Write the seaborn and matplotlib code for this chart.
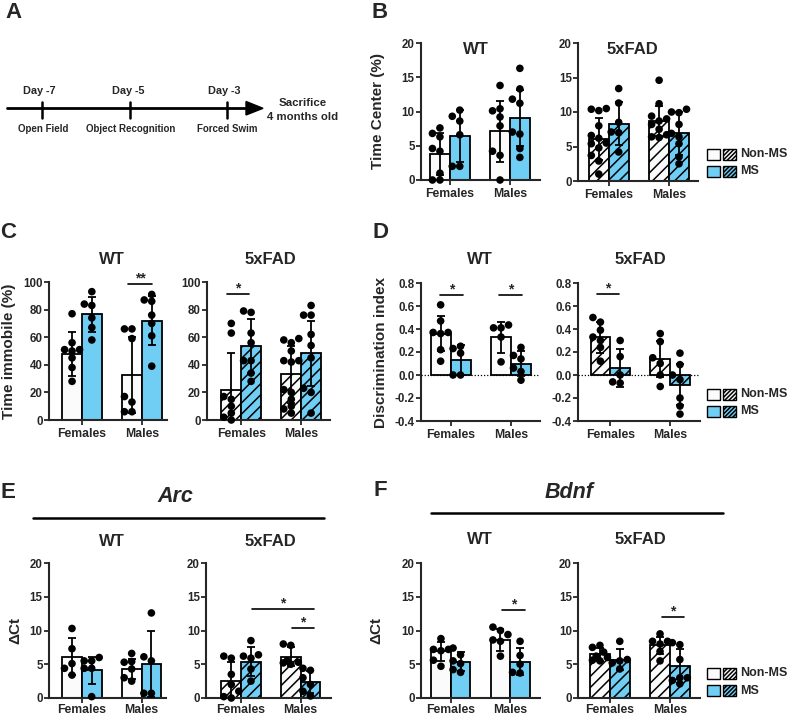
import matplotlib
matplotlib.use("Agg")
import matplotlib.pyplot as plt
from matplotlib.patches import Rectangle, Polygon
from matplotlib.ticker import FormatStrFormatter
import seaborn as sns
import numpy as np
import pandas as pd

W, H = 787, 718
sexes = ["Females", "Males"]
groups = ["Non-MS", "MS"]
WHITE = "#FBFBFB"
BLUE = "#70CDF4"

# order of every list: Females Non-MS, Females MS, Males Non-MS, Males MS
b_wt_mean = [3.8, 6.4, 7.1, 9.1]
b_wt_sd = [3.1, 3.8, 4.5, 4.1]
b_wt_pts = [[6.8, 4.6, 0.0, 1.0, 7.6, 6.3, 4.2, 0.0], [9.3, 10.2, 8.6, 6.6, 2.0, 2.0],
            [10.4, 13.8, 9.2, 7.9, 4.2, 3.6, 0.0, 10.1], [16.3, 13.3, 11.8, 11.2, 6.7, 7.0, 4.6, 3.3]]
b_fad_mean = [6.1, 8.3, 8.7, 6.9]
b_fad_sd = [3.1, 3.1, 2.2, 3.1]
b_fad_pts = [[10.2, 10.4, 10.5, 8.0, 6.6, 5.5, 4.8, 3.7, 2.9, 1.0, 6.2, 5.4], [13.4, 11.3, 8.5, 7.1, 7.0, 4.2],
             [14.6, 11.2, 9.4, 9.0, 8.7, 8.2, 7.5, 6.4, 6.3, 6.7], [10.0, 10.4, 9.9, 8.2, 6.9, 6.4, 5.4, 3.5, 2.5]]

c_wt_mean = [48, 76.5, 32.5, 72]
c_wt_sd = [16, 12.5, 27.5, 17.5]
c_wt_pts = [[77, 56, 51, 51, 50, 45, 38, 28], [93, 84, 83, 74, 67, 58],
            [66, 59, 66, 17, 13, 6, 6], [91, 87, 86, 76, 70, 61, 39]]
c_fad_mean = [21.5, 53.5, 33, 48.5]
c_fad_sd = [27, 19.5, 20.5, 23.5]
c_fad_pts = [[70, 63, 17, 15, 10, 5, 2, 0], [78, 79, 63, 56, 43, 43, 34, 28],
             [56, 58, 59, 50, 43, 43, 42, 22, 20, 15, 10, 8, 5], [83, 76, 76, 62, 54, 45, 23, 20, 5]]

d_wt_mean = [0.36, 0.13, 0.33, 0.10]
d_wt_sd = [0.155, 0.13, 0.135, 0.11]
d_wt_pts = [[0.61, 0.47, 0.37, 0.37, 0.36, 0.22, 0.12], [0.25, 0.23, 0.19, 0.0, 0.0],
            [0.41, 0.435, 0.41, 0.33, 0.114], [0.24, 0.17, 0.14, 0.06, -0.045, 0.03]]
d_fad_mean = [0.33, 0.06, 0.14, -0.085]
d_fad_sd = [0.135, 0.165, 0.155, 0.18]
d_fad_pts = [[0.50, 0.46, 0.39, 0.33, 0.30, 0.24, 0.12], [0.30, 0.16, 0.0, -0.06, -0.07],
             [0.36, 0.29, 0.15, 0.10, 0.0, -0.10], [0.19, 0.09, 0.0, -0.04, -0.20, -0.27, -0.34]]

e_wt_mean = [6.1, 4.1, 4.35, 5.1]
e_wt_sd = [2.75, 2.0, 1.5, 4.9]
e_wt_pts = [[10.3, 7.3, 5.1, 4.4, 3.4], [6.0, 5.5, 5.5, 4.4, 4.4, 0.2],
            [6.6, 5.4, 5.3, 4.3, 2.5, 3.0], [12.6, 6.1, 5.5, 0.7, 0.7]]
e_fad_mean = [2.5, 5.4, 6.1, 2.4]
e_fad_sd = [2.9, 2.1, 1.4, 1.6]
e_fad_pts = [[6.2, 5.9, 3.5, 2.0, 1.0, 0.2, 0.0], [8.5, 6.4, 6.2, 5.9, 4.3, 2.5],
             [7.8, 8.0, 5.2, 5.3, 5.5, 5.0], [4.4, 4.1, 3.0, 2.0, 1.0, 0.3]]

f_wt_mean = [6.9, 5.4, 8.6, 5.4]
f_wt_sd = [1.4, 1.4, 1.6, 2.0]
f_wt_pts = [[8.8, 7.2, 7.0, 7.2, 5.6, 4.7], [7.4, 6.4, 5.5, 5.1, 3.8, 4.2],
            [10.5, 10.0, 9.4, 8.6, 8.4, 6.2], [8.4, 6.3, 5.0, 3.8, 3.7]]
f_fad_mean = [6.5, 5.7, 7.8, 4.7]
f_fad_sd = [0.95, 1.6, 1.25, 2.5]
f_fad_pts = [[7.5, 7.8, 6.8, 6.0, 5.6, 5.5, 6.2], [8.4, 5.7, 5.2, 5.5, 4.3],
             [9.5, 8.4, 8.4, 6.9, 5.5, 8.0], [8.2, 7.9, 5.7, 3.0, 2.1, 3.0, 2.6]]

sns.set_style("ticks")
plt.rcParams['font.family'] = ['Liberation Sans', 'DejaVu Sans']
plt.rcParams['font.weight'] = 'bold'
plt.rcParams['axes.unicode_minus'] = False
plt.rcParams['hatch.linewidth'] = 1.1

fig = plt.figure(figsize=(W / 100, H / 100), dpi=100)


def box(x0, x1, ytop, ybot):
    return [x0 / W, 1 - ybot / H, (x1 - x0) / W, (ybot - ytop) / H]


def spread(vals, pxx, pxy, d=6.8, half=7.5):
    vals = np.asarray(vals, float)
    offs = np.zeros(len(vals))
    placed = []
    for i in np.argsort(vals):
        y = vals[i] * pxy
        cands = [0, -half, half, -half / 2, half / 2]
        best, bestd = 0, -1
        for c in cands:
            md = min([np.hypot(c - ox, y - oy) for ox, oy in placed] + [99])
            if md >= d:
                best = c
                break
            if md > bestd:
                best, bestd = c, md
        placed.append((best, y))
        offs[i] = best
    return offs / pxx


def panel(b, xlim, means, sds, pts, hatched, ylim, yticks, fmt="%d", zero=False, xpad=2):
    ax = fig.add_axes(b)
    ax.set_facecolor("none")
    df = pd.DataFrame({"sex": [s for s in sexes for g in groups],
                       "group": [g for s in sexes for g in groups],
                       "value": means})
    sns.barplot(data=df, x="sex", y="value", hue="group", order=sexes, hue_order=groups,
                palette={"Non-MS": WHITE, "MS": BLUE}, saturation=1, width=0.66,
                errorbar=None, edgecolor="black", linewidth=1.3, legend=False, ax=ax)
    if hatched:
        for p in ax.patches:
            p.set_hatch("///")
    xs = [i + o for i in range(2) for o in (-0.165, 0.165)]
    ax.errorbar(xs, means, yerr=sds, fmt="none", ecolor="black", elinewidth=1.3,
                capsize=3.2, capthick=1.3, zorder=4)
    ax.set_xlim(*xlim)
    ax.set_ylim(*ylim)
    pxx = b[2] * W / (xlim[1] - xlim[0])
    pxy = b[3] * H / (ylim[1] - ylim[0])
    px, py = [], []
    for x, v in zip(xs, pts):
        px += list(x + spread(v, pxx, pxy))
        py += list(v)
    sns.scatterplot(x=px, y=py, color="black", s=30, edgecolor="none", ax=ax,
                    zorder=5, legend=False, clip_on=False)
    if zero:
        ax.axhline(0, color="black", lw=0.9, ls=(0, (1, 1.5)), zorder=3)
    ax.set_yticks(yticks)
    ax.yaxis.set_major_formatter(FormatStrFormatter(fmt))
    ax.set_xticks([0, 1])
    ax.set_xticklabels(sexes)
    ax.set_xlabel("")
    ax.set_ylabel("")
    ax.tick_params(axis="y", length=3.5, width=1.3, labelsize=8.3, pad=1)
    ax.tick_params(axis="x", length=3.5, width=1.3, labelsize=8.8, pad=xpad)
    for s in ["top", "right"]:
        ax.spines[s].set_visible(False)
    for s in ["left", "bottom"]:
        ax.spines[s].set_linewidth(1.5)
    return ax


t20 = [0, 5, 10, 15, 20]
panel(box(421, 540, 43, 180), (-0.48, 1.5), b_wt_mean, b_wt_sd, b_wt_pts, False, (0, 20), t20)
panel(box(578, 698, 43, 181), (-0.51, 1.48), b_fad_mean, b_fad_sd, b_fad_pts, True, (0, 20), t20)
t100 = [0, 20, 40, 60, 80, 100]
panel(box(49, 167, 282, 420), (-0.55, 1.42), c_wt_mean, c_wt_sd, c_wt_pts, False, (0, 100), t100)
panel(box(207, 330, 282, 420), (-0.57, 1.48), c_fad_mean, c_fad_sd, c_fad_pts, True, (0, 100), t100)
td = [-0.4, -0.2, 0.0, 0.2, 0.4, 0.6, 0.8]
panel(box(421, 540, 283, 421), (-0.49, 1.48), d_wt_mean, d_wt_sd, d_wt_pts, False, (-0.4, 0.8), td, "%.1f", True)
panel(box(578, 700, 283, 421), (-0.54, 1.5), d_fad_mean, d_fad_sd, d_fad_pts, True, (-0.4, 0.8), td, "%.1f", True)
panel(box(49, 166, 563, 698), (-0.55, 1.41), e_wt_mean, e_wt_sd, e_wt_pts, False, (0, 20), t20, xpad=1)
panel(box(206, 331, 563, 698), (-0.59, 1.51), e_fad_mean, e_fad_sd, e_fad_pts, True, (0, 20), t20, xpad=1)
panel(box(421, 540, 563, 698), (-0.5, 1.5), f_wt_mean, f_wt_sd, f_wt_pts, False, (0, 20), t20, xpad=1)
panel(box(578, 700, 563, 698), (-0.53, 1.5), f_fad_mean, f_fad_sd, f_fad_pts, True, (0, 20), t20, xpad=1)

# overlay in pixel coordinates for texts, timeline, legends, significance bars
ov = fig.add_axes([0, 0, 1, 1])
ov.set_xlim(0, W)
ov.set_ylim(H, 0)
ov.axis("off")
ov.patch.set_alpha(0)
ov.set_zorder(10)


def txt(x, y, s, size, **kw):
    ov.text(x, y, s, ha="center", va="center", fontsize=size, fontweight="bold", **kw)


for x, y, s in [(13, 12, "A"), (380, 12, "B"), (8, 232, "C"), (380, 232, "D"), (8, 493, "E"), (380, 490, "F")]:
    txt(x, y, s, 16)

# timeline
ov.plot([7, 248], [108.3, 108.3], color="black", lw=2)
ov.add_patch(Polygon([(246, 101.5), (263, 108.3), (246, 115)], closed=True, color="black"))
for x, day, test in [(41.7, "Day -7", "Open Field"), (130, "Day -5", "Object Recognition"), (226.7, "Day -3", "Forced Swim")]:
    ov.plot([x, x], [101.7, 118.3], color="black", lw=1.8)
    txt(x - 2, 91, day, 7.8)
    txt(x + 1, 128.5, test, 7)
txt(303, 103, "Sacrifice", 8.2)
txt(303, 117, "4 months old", 8.2)

# titles
for x, y in [(476, 49), (112, 260), (480, 260), (112, 541), (480, 540)]:
    txt(x, y, "WT", 12)
for x, y in [(632, 49), (270, 260), (640, 260), (270, 541), (640, 540)]:
    txt(x, y, "5xFAD", 12)
txt(175, 497, "Arc", 15.5, style="italic")
txt(569, 493, "Bdnf", 15.5, style="italic")
ov.plot([33, 324], [518.3, 518.3], color="black", lw=1.8)
ov.plot([431, 723], [512.7, 512.7], color="black", lw=1.8)

# y labels
txt(378, 111, "Time Center (%)", 11, rotation=90)
txt(9, 351, "Time immobile (%)", 11, rotation=90)
txt(381, 352, "Discrimination index", 11, rotation=90)
txt(15, 631, "ΔCt", 11, rotation=90)
txt(376, 631, "ΔCt", 11, rotation=90)

# legends
for y0 in [154, 394, 673]:
    for dy, color, lab in [(0, WHITE, "Non-MS"), (17.5, BLUE, "MS")]:
        y = y0 + dy
        ov.add_patch(Rectangle((707, y - 5.5), 13, 11, facecolor=color, edgecolor="black", lw=1))
        ov.add_patch(Rectangle((723, y - 5.5), 13, 11, facecolor=color, edgecolor="black", lw=1, hatch="////////"))
        ov.text(740, y, lab, ha="left", va="center", fontsize=9, fontweight="bold")

# significance bars
for x0, x1, y, lab in [(128, 152, 284, "**"), (227, 249, 294, "*"), (440, 463, 295, "*"), (499, 522, 295, "*"),
                       (597, 619, 294, "*"), (252, 314, 609, "*"), (292, 314, 628, "*"), (502, 525, 610, "*"),
                       (662, 684, 617, "*")]:
    ov.plot([x0, x1], [y, y], color="black", lw=1.2)
    txt((x0 + x1) / 2, y - 6, lab, 10)

fig.savefig("out.png", dpi=100)
